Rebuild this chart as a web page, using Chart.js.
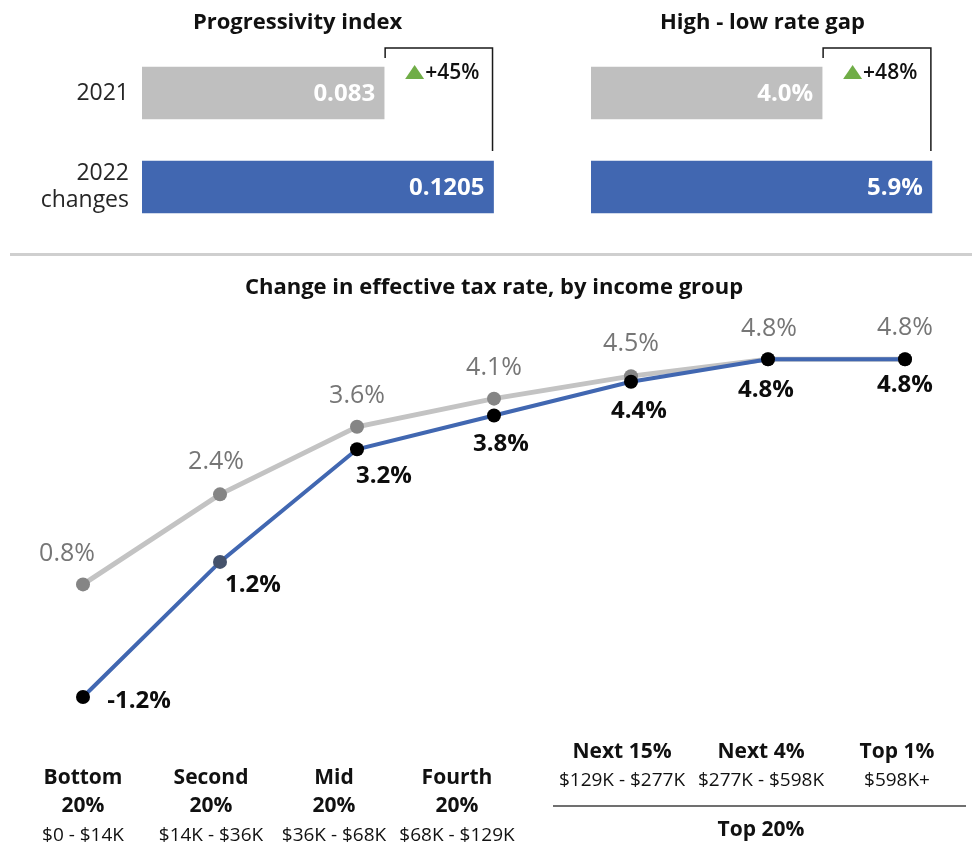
<!DOCTYPE html>
<html lang="en">
<head>
  <meta charset="UTF-8" />
  <title>Progressivity and effective tax rate changes</title>
  <script src="https://cdn.jsdelivr.net/npm/chart.js"></script>
  <style>
    body {
      margin: 0;
      background: #fff;
      font-family: "Open Sans", sans-serif;
      overflow: hidden;
    }
    #page {
      position: relative;
      width: 972px;
      height: 850px;
    }
    .box {
      position: absolute;
    }
    .sep {
      position: absolute;
      left: 10px;
      top: 253px;
      width: 962px;
      border-top: 3px solid #cfcfcf;
    }
  </style>
</head>
<body>
  <div id="page">
    <div class="box" style="left:30px; top:0; width:535px; height:236px;">
      <canvas id="progChart"></canvas>
    </div>
    <div class="box" style="left:570px; top:0; width:385px; height:236px;">
      <canvas id="gapChart"></canvas>
    </div>
    <div class="sep"></div>
    <div class="box" style="left:20px; top:260px; width:952px; height:590px;">
      <canvas id="rateChart"></canvas>
    </div>
  </div>

  <script>
    // top panels
    const years = ["2021", ["2022", "changes"]];
    const progressivity = [0.083, 0.1205];
    const rateGap = [4.0, 5.9];
    const progChange = "+45%";
    const gapChange = "+48%";

    // bottom panel
    const groups = [["Bottom", "20%"], ["Second", "20%"], ["Mid", "20%"], ["Fourth", "20%"],
                    ["Next 15%"], ["Next 4%"], ["Top 1%"]];
    const incomeRanges = ["$0 - $14K", "$14K - $36K", "$36K - $68K", "$68K - $129K",
                          "$129K - $277K", "$277K - $598K", "$598K+"];
    const topGroupLabel = "Top 20%";
    const rates2021 = [0.8, 2.4, 3.6, 4.1, 4.5, 4.8, 4.8];
    const rates2022 = [-1.2, 1.2, 3.2, 3.8, 4.4, 4.8, 4.8];

    const FONT = '"Open Sans", "Noto Sans", sans-serif';
    const GRAY_BAR = "#bfbfbf";
    const BLUE = "#4167b1";

    // label placement (px offsets from each point)
    const grayLabelShift = [[-16, -31], [-4, -32], [0, -31], [0, -31], [0, -32], [1, -30], [0, -31]];
    const blueLabelShift = [[56, 4], [33, 23], [27, 27], [7, 29], [8, 29], [-2, 31], [0, 26]];
    // x label columns sit a bit left of the points
    const columnShift = [0, -9, -23, -37, -9, -7, -8];

    Chart.defaults.font.family = FONT;
    Chart.defaults.animation = false;

    // value labels, bracket and change marker on the bar panels
    const barNotes = {
      id: "barNotes",
      afterDatasetsDraw(chart, args, opts) {
        const ctx = chart.ctx;
        const meta = chart.getDatasetMeta(0);
        const a = meta.data[0], b = meta.data[1];
        ctx.save();
        ctx.font = "700 24px " + FONT;
        ctx.fillStyle = "#ffffff";
        ctx.textAlign = "right";
        ctx.textBaseline = "middle";
        meta.data.forEach((bar, i) => ctx.fillText(opts.labels[i], bar.x - 9, bar.y + 1));

        const top = chart.chartArea.top + 2;
        ctx.strokeStyle = "#1a1a1a";
        ctx.lineWidth = 1.5;
        ctx.beginPath();
        ctx.moveTo(a.x + 1, a.y - a.height / 2 - 9);
        ctx.lineTo(a.x + 1, top);
        ctx.lineTo(b.x - 1, top);
        ctx.lineTo(b.x - 1, b.y - b.height / 2 - 10);
        ctx.stroke();

        const tx = a.x + 21, ty = a.y - 21;
        ctx.fillStyle = "#70ad47";
        ctx.beginPath();
        ctx.moveTo(tx, ty + 7);
        ctx.lineTo(tx + 19, ty + 7);
        ctx.lineTo(tx + 9.5, ty - 7);
        ctx.closePath();
        ctx.fill();
        ctx.fillStyle = "#111111";
        ctx.font = "600 21px " + FONT;
        ctx.textAlign = "left";
        ctx.fillText(opts.change, tx + 20, ty + 1);
        ctx.restore();
      }
    };

    function barChart(id, labels, values, max, labelWidth, showLabels, texts, change, title) {
      return new Chart(document.getElementById(id), {
        type: "bar",
        data: {
          labels: labels,
          datasets: [{
            data: values,
            backgroundColor: [GRAY_BAR, BLUE],
            barThickness: 52
          }]
        },
        options: {
          indexAxis: "y",
          responsive: true,
          maintainAspectRatio: false,
          layout: { padding: { top: 0, bottom: 2 } },
          plugins: {
            legend: { display: false },
            tooltip: { enabled: false },
            title: {
              display: true,
              text: title,
              color: "#111111",
              font: { size: 22, weight: "bold" },
              padding: { top: 10, bottom: 9.6 }
            },
            barNotes: { labels: texts, change: change }
          },
          scales: {
            x: { display: false, min: 0, max: max },
            y: {
              grid: { display: false, drawTicks: false },
              border: { display: false },
              ticks: {
                display: showLabels,
                color: "#262626",
                padding: 13,
                font: { size: 23, lineHeight: 1.15 }
              },
              afterFit(scale) {
                scale.width = labelWidth;
                scale.paddingTop = 0;
                scale.paddingBottom = 0;
              }
            }
          }
        },
        plugins: [barNotes]
      });
    }

    barChart("progChart", years, progressivity, 0.145, 112, true,
             progressivity.map(v => String(v)), progChange, "Progressivity index");
    barChart("gapChart", years, rateGap, 6.3, 21, false,
             rateGap.map(v => v.toFixed(1) + "%"), gapChange, "High - low rate gap");

    // value labels next to the line points
    const pointLabels = {
      id: "pointLabels",
      afterDatasetsDraw(chart) {
        const ctx = chart.ctx;
        const sets = [
          { index: 1, shift: grayLabelShift, font: "400 25px " + FONT, color: "#767676" },
          { index: 0, shift: blueLabelShift, font: "700 24px " + FONT, color: "#0d0d0d" }
        ];
        ctx.save();
        ctx.textAlign = "center";
        ctx.textBaseline = "middle";
        sets.forEach(s => {
          const meta = chart.getDatasetMeta(s.index);
          const vals = chart.data.datasets[s.index].data;
          ctx.font = s.font;
          ctx.fillStyle = s.color;
          meta.data.forEach((pt, i) => {
            ctx.fillText(vals[i].toFixed(1) + "%", pt.x + s.shift[i][0], pt.y + s.shift[i][1]);
          });
        });
        ctx.restore();
      }
    };

    // income group labels under the chart
    const groupAxis = {
      id: "groupAxis",
      afterDraw(chart) {
        const ctx = chart.ctx;
        const x = chart.scales.x;
        ctx.save();
        ctx.textAlign = "center";
        ctx.textBaseline = "middle";
        ctx.fillStyle = "#111111";
        groups.forEach((lines, i) => {
          const px = x.getPixelForValue(i) + columnShift[i];
          ctx.font = "700 21px " + FONT;
          if (lines.length === 2) {
            ctx.fillText(lines[0], px, 518);
            ctx.fillText(lines[1], px, 546);
            ctx.font = "400 19px " + FONT;
            ctx.fillText(incomeRanges[i], px, 576);
          } else {
            ctx.fillText(lines[0], px, 492);
            ctx.font = "400 19px " + FONT;
            ctx.fillText(incomeRanges[i], px, 521);
          }
        });
        const left = x.getPixelForValue(4) - 78;
        const right = x.getPixelForValue(6) + 61;
        ctx.strokeStyle = "#404040";
        ctx.lineWidth = 1.5;
        ctx.beginPath();
        ctx.moveTo(left, 546);
        ctx.lineTo(right, 546);
        ctx.stroke();
        ctx.font = "700 21px " + FONT;
        ctx.fillText(topGroupLabel, x.getPixelForValue(5) - 7, 570);
        ctx.restore();
      }
    };

    new Chart(document.getElementById("rateChart"), {
      type: "line",
      data: {
        labels: groups.map(g => g.join(" ")),
        datasets: [
          {
            label: "2022 changes",
            data: rates2022,
            borderColor: BLUE,
            borderWidth: 4,
            pointRadius: 7,
            pointBorderWidth: 0,
            pointBackgroundColor: ["#000000", "#45526b", "#000000", "#000000", "#000000", "#000000", "#000000"],
            tension: 0
          },
          {
            label: "2021",
            data: rates2021,
            borderColor: "#c3c3c3",
            borderWidth: 5,
            pointRadius: 7,
            pointBorderWidth: 0,
            pointBackgroundColor: "#858585",
            tension: 0
          }
        ]
      },
      options: {
        responsive: true,
        maintainAspectRatio: false,
        layout: { padding: { top: 0, bottom: 108, left: 63, right: 67 } },
        plugins: {
          legend: { display: false },
          tooltip: { enabled: false },
          title: {
            display: true,
            text: "Change in effective tax rate, by income group",
            color: "#111111",
            font: { size: 22, weight: "bold" },
            padding: { top: 14.8, bottom: 46.8 }
          }
        },
        scales: {
          x: { display: false, offset: false },
          y: { display: false, min: -2, max: 5 }
        }
      },
      plugins: [pointLabels, groupAxis]
    });
  </script>
</body>
</html>
